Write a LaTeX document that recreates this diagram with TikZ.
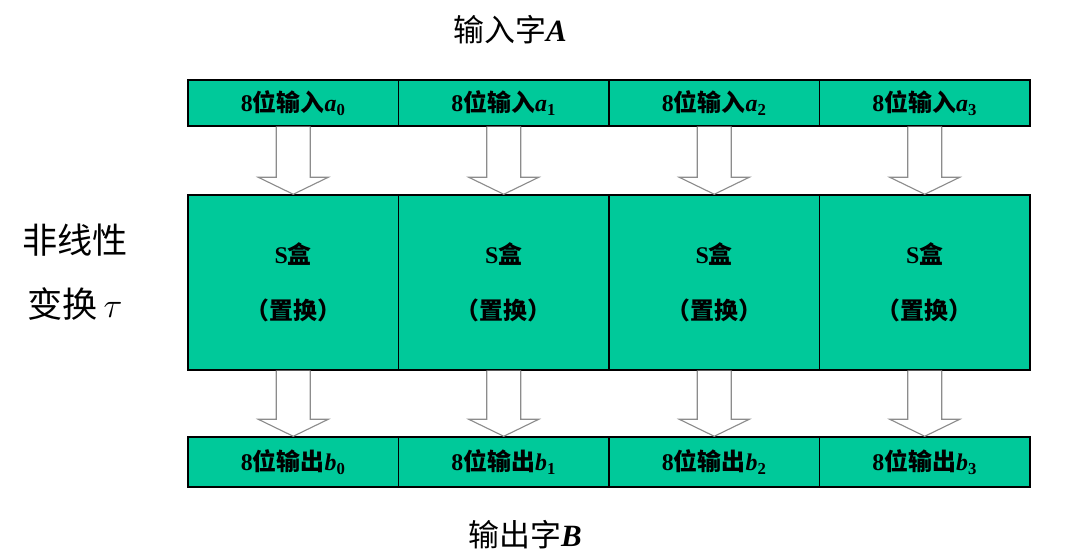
\documentclass[tikz,border=0pt]{standalone}
\usepackage{fontspec}
\setmainfont{Liberation Serif}
\newfontfamily\cjk{Noto Sans CJK SC}
\usetikzlibrary{calc}
\definecolor{BoxGreen}{HTML}{00C99A}
\definecolor{ArrowGray}{HTML}{8C8C8C}
\tikzset{
  cell/.style={draw=black, line width=1pt, fill=BoxGreen, inner sep=0pt,
               minimum width=5.26cm, font=\fontsize{17}{20}\selectfont\bfseries},
  hollow/.style={draw=ArrowGray, line width=0.8pt, fill=white}
}
\newcommand{\blockarrow}[2]{%
  \draw[hollow] ($(#1.south)+(-17,0)$) -- ($(#2.north)+(-17,-17)$)
    -- ($(#2.north)+(-35,-17)$) -- (#2.north) -- ($(#2.north)+(35,-17)$)
    -- ($(#2.north)+(17,-17)$) -- ($(#1.south)+(17,0)$);}
\begin{document}
\begin{tikzpicture}[x=0.025cm, y=-0.025cm]
    \useasboundingbox (0,0) rectangle (1081,557);

    % Word labels
    \node[font=\fontsize{22}{26}\selectfont] (wa) at (510,30) {{\cjk 输入字}\textit{\textbf{A}}};
    \node[font=\fontsize{22}{26}\selectfont] (wb) at (525,535) {{\cjk 输出字}\textit{\textbf{B}}};
    \node[font=\fontsize{25}{46}\selectfont, align=center] (tau) at (75,272)
        {{\cjk 非线性}\\{\cjk 变换}\,$\tau$};

    % Rows of cells
    \foreach \i in {0,1,2,3} {
        \pgfmathsetmacro{\cx}{293.25+210.5*\i}
        \node[cell, minimum height=1.15cm] (a\i) at (\cx,103)
            {8{\cjk 位输入}\textit{a}\textsubscript{\i}};
        \node[cell, minimum height=4.375cm, align=center,
              font=\fontsize{17}{40}\selectfont\bfseries] (s\i) at (\cx,282.5)
            {S{\cjk 盒}\\{\cjk （置换）}};
        \node[cell, minimum height=1.25cm] (b\i) at (\cx,462)
            {8{\cjk 位输出}\textit{b}\textsubscript{\i}};
        \blockarrow{a\i}{s\i}
        \blockarrow{s\i}{b\i}
    }
\end{tikzpicture}
\end{document}
